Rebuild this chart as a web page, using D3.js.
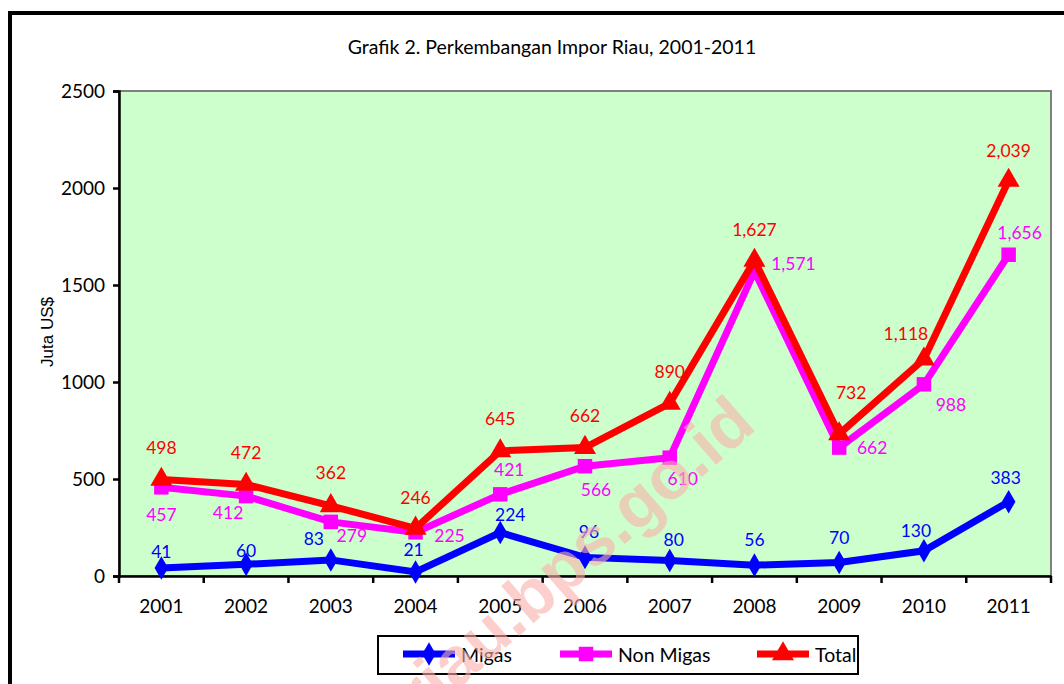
<!DOCTYPE html>
<html>
<head>
<meta charset="utf-8">
<script src="https://cdn.jsdelivr.net/npm/d3@7"></script>
<style>
  body { margin: 0; background: #fff; }
  svg { display: block; }
</style>
</head>
<body>
<svg id="chart" width="1064" height="684"></svg>
<script>
// Data (Juta US$)
var years = ["2001", "2002", "2003", "2004", "2005", "2006", "2007", "2008", "2009", "2010", "2011"];
var migas = [41, 60, 83, 21, 224, 96, 80, 56, 70, 130, 383];
var nonMigas = [457, 412, 279, 225, 421, 566, 610, 1571, 662, 988, 1656];
var total = [498, 472, 362, 246, 645, 662, 890, 1627, 732, 1118, 2039];
var yTicks = [0, 500, 1000, 1500, 2000, 2500];

// where each data label sits relative to its point (px)
var migasLabelOffset = [[0, -17], [0, -14], [-17, -21], [-2, -22], [10, -18], [4, -26], [4, -21], [0, -26], [0, -25], [-8, -20], [-3, -24]];
var nonMigasLabelOffset = [[0, 27], [-18, 16], [21, 14], [34, 3], [9, -25], [11, 23], [13, 21], [39, -8], [33, 0], [27, 20], [11, -22]];
var totalLabelOffset = [[0, -32], [0, -32], [0, -33], [0, -31], [0, -32], [0, -32], [0, -32], [0, -31], [12, -41], [-18, -26], [0, -30]];

var font = "Lato, 'Open Sans', sans-serif";
var svg = d3.select("#chart");

var plot = { left: 119, right: 1051, top: 91, bottom: 576 };

var x = d3.scaleBand().domain(years).range([plot.left, plot.right]);
var cx = d => x(d) + x.bandwidth() / 2;
var y = d3.scaleLinear().domain([0, 2500]).range([plot.bottom, plot.top]);

// outer frame (runs off the right and bottom edges)
svg.append("rect")
    .attr("x", 10).attr("y", 13)
    .attr("width", 1100).attr("height", 700)
    .attr("fill", "none")
    .attr("stroke", "#000")
    .attr("stroke-width", 4);

// title
svg.append("text")
    .attr("x", 552).attr("y", 54)
    .attr("text-anchor", "middle")
    .style("font-family", font)
    .style("font-size", "19.5px")
    .text("Grafik 2. Perkembangan Impor Riau, 2001-2011");

// plot area
svg.append("rect")
    .attr("x", plot.left).attr("y", plot.top)
    .attr("width", plot.right - plot.left).attr("height", plot.bottom - plot.top)
    .attr("fill", "#ccffcc")
    .attr("stroke", "#808080")
    .attr("stroke-width", 2);

// y axis
var yAxis = svg.append("g")
    .attr("transform", "translate(" + plot.left + ",0)")
    .call(d3.axisLeft(y).tickValues(yTicks).tickSize(6).tickPadding(8).tickFormat(d3.format("d")));
yAxis.select(".domain").attr("stroke-width", 2.5);
yAxis.selectAll(".tick line").attr("stroke-width", 2.5);
yAxis.selectAll("text").style("font-family", font).style("font-size", "19px").attr("fill", "#000");

// x axis
var xAxis = svg.append("g")
    .attr("transform", "translate(0," + plot.bottom + ")")
    .call(d3.axisBottom(x).tickSize(0).tickPadding(24));
xAxis.select(".domain").attr("stroke-width", 2.5);
xAxis.selectAll("text").style("font-family", font).style("font-size", "19px").attr("fill", "#000");
// tick marks between categories
xAxis.selectAll(".sep")
    .data(d3.range(years.length + 1))
    .enter().append("line")
    .attr("class", "sep")
    .attr("x1", i => plot.left + i * x.step()).attr("x2", i => plot.left + i * x.step())
    .attr("y1", 0).attr("y2", 7)
    .attr("stroke", "#000").attr("stroke-width", 2.5);

// y axis title
svg.append("text")
    .attr("transform", "translate(53,332) rotate(-90)")
    .attr("text-anchor", "middle")
    .style("font-family", "'Liberation Sans', Arial, sans-serif")
    .style("font-size", "17px")
    .text("Juta US$");

var series = [
    { name: "Migas", values: migas, color: "#0000ff", width: 7, marker: d3.symbolDiamond, size: 160, offsets: migasLabelOffset },
    { name: "Non Migas", values: nonMigas, color: "#ff00ff", width: 7, marker: d3.symbolSquare, size: 210, offsets: nonMigasLabelOffset },
    { name: "Total", values: total, color: "#ff0000", width: 7, marker: d3.symbolTriangle, size: 210, offsets: totalLabelOffset }
];

var line = d3.line().x(d => cx(d.year)).y(d => y(d.value));

series.forEach(function(s) {
    var pts = years.map((yr, i) => ({ year: yr, value: s.values[i] }));
    var g = svg.append("g");
    g.append("path")
        .datum(pts)
        .attr("d", line)
        .attr("fill", "none")
        .attr("stroke", s.color)
        .attr("stroke-width", s.width)
        .attr("stroke-linejoin", "miter");
    g.selectAll(".marker")
        .data(pts)
        .enter().append("path")
        .attr("class", "marker")
        .attr("transform", d => "translate(" + cx(d.year) + "," + y(d.value) + ")")
        .attr("d", d3.symbol().type(s.marker).size(s.size))
        .attr("fill", s.color);
});

// data labels drawn after all lines
series.forEach(function(s) {
    svg.append("g").selectAll("text")
        .data(years)
        .enter().append("text")
        .attr("x", (d, i) => cx(d) + s.offsets[i][0])
        .attr("y", (d, i) => y(s.values[i]) + s.offsets[i][1])
        .attr("text-anchor", "middle")
        .attr("dominant-baseline", "central")
        .attr("fill", s.color)
        .style("font-family", font)
        .style("font-size", "17.5px")
        .text((d, i) => d3.format(",")(s.values[i]));
});

// legend
var legend = svg.append("g");
legend.append("rect")
    .attr("x", 378).attr("y", 636)
    .attr("width", 480).attr("height", 38)
    .attr("fill", "#fff")
    .attr("stroke", "#000")
    .attr("stroke-width", 2);
var legendX = [403, 560, 757];
series.forEach(function(s, i) {
    var lx = legendX[i], ly = 654;
    legend.append("line")
        .attr("x1", lx).attr("x2", lx + 52)
        .attr("y1", ly).attr("y2", ly)
        .attr("stroke", s.color).attr("stroke-width", 7);
    legend.append("path")
        .attr("transform", "translate(" + (lx + 26) + "," + ly + ")")
        .attr("d", d3.symbol().type(s.marker).size(s.size))
        .attr("fill", s.color);
    legend.append("text")
        .attr("x", lx + 58).attr("y", ly)
        .attr("dominant-baseline", "central")
        .style("font-family", font)
        .style("font-size", "19.5px")
        .text(s.name);
});

// watermark on top of everything
svg.append("text")
    .attr("transform", "translate(758,428) rotate(-41)")
    .attr("text-anchor", "end")
    .attr("fill", "#faafaa")
    .attr("fill-opacity", 0.6)
    .style("font-family", "'Liberation Sans', Arial, sans-serif")
    .style("font-weight", "bold")
    .style("font-size", "68px")
    .text("riau.bps.go.id");
</script>
</body>
</html>
